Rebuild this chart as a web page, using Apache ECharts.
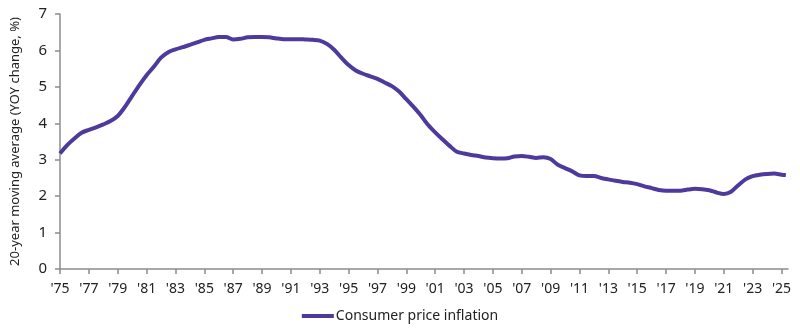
<!DOCTYPE html>
<html>
<head>
<meta charset="utf-8">
<script src="https://cdn.jsdelivr.net/npm/echarts@6/dist/echarts.min.js"></script>
<style>html,body{margin:0;padding:0;background:#fff}#c{width:800px;height:331px}</style>
</head>
<body>
<div id="c"></div>
<script>
const years = [1975.0,1975.5,1976.0,1976.5,1977.0,1977.5,1978.0,1978.5,1979.0,1979.5,1980.0,1980.5,1981.0,1981.5,1982.0,1982.5,1983.0,1983.5,1984.0,1984.5,1985.0,1985.5,1986.0,1986.5,1987.0,1987.5,1988.0,1988.5,1989.0,1989.5,1990.0,1990.5,1991.0,1991.5,1992.0,1992.5,1993.0,1993.5,1994.0,1994.5,1995.0,1995.5,1996.0,1996.5,1997.0,1997.5,1998.0,1998.5,1999.0,1999.5,2000.0,2000.5,2001.0,2001.5,2002.0,2002.5,2003.0,2003.5,2004.0,2004.5,2005.0,2005.5,2006.0,2006.5,2007.0,2007.5,2008.0,2008.5,2009.0,2009.5,2010.0,2010.5,2011.0,2011.5,2012.0,2012.5,2013.0,2013.5,2014.0,2014.5,2015.0,2015.5,2016.0,2016.5,2017.0,2017.5,2018.0,2018.5,2019.0,2019.5,2020.0,2020.5,2021.0,2021.5,2022.0,2022.5,2023.0,2023.5,2024.0,2024.5,2025.0,2025.3];
const cpi = [3.17,3.40,3.58,3.74,3.82,3.89,3.97,4.06,4.20,4.45,4.75,5.05,5.32,5.55,5.80,5.95,6.03,6.09,6.15,6.22,6.29,6.33,6.37,6.37,6.30,6.32,6.36,6.37,6.37,6.36,6.33,6.31,6.31,6.31,6.30,6.29,6.27,6.18,6.02,5.80,5.60,5.45,5.36,5.29,5.22,5.12,5.02,4.87,4.66,4.45,4.22,3.96,3.75,3.56,3.38,3.22,3.17,3.13,3.10,3.06,3.04,3.03,3.04,3.09,3.10,3.08,3.05,3.07,3.02,2.86,2.77,2.68,2.57,2.55,2.55,2.50,2.46,2.42,2.39,2.37,2.33,2.27,2.22,2.17,2.15,2.15,2.15,2.18,2.20,2.19,2.16,2.10,2.06,2.12,2.30,2.46,2.55,2.59,2.61,2.62,2.59,2.58];
const yTicks = [0,1,2,3,4,5,6,7];
const seriesName = 'Consumer price inflation';
const yTitle = '20-year moving average (YOY change, %)';

const font = 'Noto Sans';
const chart = echarts.init(document.getElementById('c'));
chart.setOption({
  animation: false,
  grid: {left: 60, right: 12, top: 14, bottom: 62, containLabel: false},
  legend: {
    top: 304, left: 'center',
    data: [{name: seriesName, icon: 'rect'}],
    itemWidth: 32, itemHeight: 4, itemGap: 10,
    textStyle: {fontFamily: font, fontSize: 14, color: '#222', padding: [0,0,0,-3]}
  },
  xAxis: {
    type: 'value', min: 1975, max: 2025.45, interval: 2,
    axisLine: {show: true, lineStyle: {color: '#8c8c8c', width: 1.5}},
    axisTick: {show: true, length: 5, lineStyle: {color: '#8c8c8c', width: 1.5}},
    splitLine: {show: false},
    axisLabel: {
      fontFamily: font, fontSize: 14, color: '#222', margin: 13,
      showMaxLabel: false,
      formatter: v => (Math.abs(v - Math.round(v)) < 1e-6 && Math.round(v) % 2 === 1) ? "'" + String(Math.round(v)).slice(2) : ''
    }
  },
  yAxis: {
    type: 'value', min: yTicks[0], max: yTicks[yTicks.length-1], interval: 1,
    name: yTitle, nameLocation: 'middle', nameGap: 38,
    nameTextStyle: {fontFamily: font, fontSize: 13, color: '#222'},
    axisLine: {show: true, lineStyle: {color: '#8c8c8c', width: 1.5}},
    axisTick: {show: true, length: 5, lineStyle: {color: '#8c8c8c', width: 1.5}},
    splitLine: {show: false},
    axisLabel: {fontFamily: font, fontSize: 15, color: '#222', margin: 13}
  },
  series: [{
    name: seriesName, type: 'line', symbol: 'none', smooth: 0.3,
    data: years.map((y, i) => [y, cpi[i]]),
    lineStyle: {color: '#4e3a9c', width: 4},
    itemStyle: {color: '#4e3a9c'}
  }]
});
</script>
</body>
</html>
